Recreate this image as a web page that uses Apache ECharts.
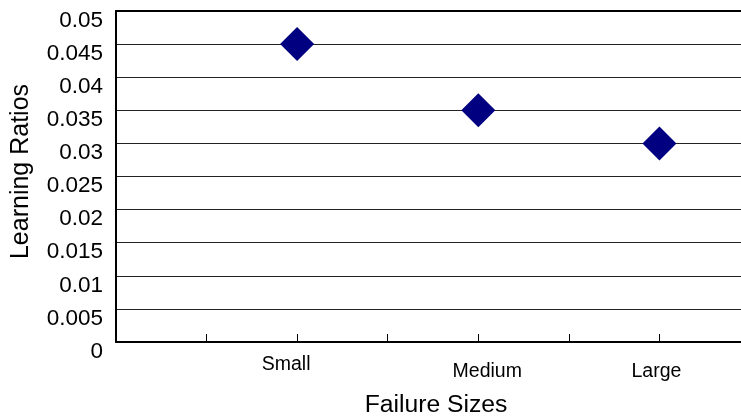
<!DOCTYPE html>
<html>
<head>
<meta charset="utf-8">
<script src="https://cdn.jsdelivr.net/npm/echarts@6/dist/echarts.min.js"></script>
<style>
  html, body { margin: 0; padding: 0; background: #fff; }
  #chart { width: 741px; height: 420px; }
</style>
</head>
<body>
<div id="chart"></div>
<script>
// Failure size categories and their positions on the x scale
const categories = ['Small', 'Medium', 'Large'];
const categoryPositions = [2, 4, 6];
// Learning ratio for each failure size
const learningRatios = [0.045, 0.035, 0.03];
// Y tick range
const yMin = 0, yMax = 0.05, yStep = 0.005;

const points = categoryPositions.map((x, i) => [x, learningRatios[i]]);
const labelByPos = {};
categoryPositions.forEach((p, i) => { labelByPos[p] = categories[i]; });

const font = 'Liberation Sans, Arial, sans-serif';

const chart = echarts.init(document.getElementById('chart'), null, { renderer: 'canvas' });
chart.setOption({
  animation: false,
  backgroundColor: '#fff',
  grid: {
    left: 116, top: 11, right: -9, bottom: 78,
    outerBoundsMode: 'none',
    containLabel: false,
    show: false
  },
  xAxis: [{
    type: 'value',
    min: 0, max: 7, interval: 1,
    name: 'Failure Sizes',
    nameLocation: 'middle',
    nameGap: 51,
    nameTextStyle: { fontFamily: font, fontSize: 24.7, color: '#000', padding: [0, 0, 0, 6] },
    axisLine: { lineStyle: { color: '#000', width: 2 } },
    axisTick: { inside: true, length: 8, lineStyle: { color: '#000', width: 1 } },
    splitLine: { show: false },
    axisLabel: {
      margin: 13,
      fontFamily: font, fontSize: 19.5, color: '#000',
      formatter: v => {
        const name = labelByPos[v];
        if (!name) return '';
        return '{' + name.toLowerCase() + '|' + name + '}';
      },
      rich: {
        small:  { fontFamily: font, fontSize: 19.5, color: '#000', padding: [0, 22, 0, 0] },
        medium: { fontFamily: font, fontSize: 19.5, color: '#000', padding: [7, 0, 0, 18] },
        large:  { fontFamily: font, fontSize: 19.5, color: '#000', padding: [7, 6, 0, 0] }
      }
    }
  }, {
    // top border of the plot frame
    type: 'value',
    position: 'top',
    min: 0, max: 7,
    axisLine: { show: true, lineStyle: { color: '#000', width: 2 } },
    axisTick: { show: false },
    axisLabel: { show: false },
    splitLine: { show: false }
  }],
  yAxis: {
    type: 'value',
    min: yMin, max: yMax, interval: yStep,
    name: 'Learning Ratios',
    nameLocation: 'middle',
    nameGap: 82,
    nameTextStyle: { fontFamily: font, fontSize: 25, color: '#000', padding: [0, 0, 0, 10] },
    axisLine: { show: true, lineStyle: { color: '#000', width: 2 } },
    axisTick: { show: false },
    splitLine: { lineStyle: { color: '#222', width: 1 } },
    axisLabel: {
      margin: 13,
      fontFamily: font, fontSize: 22.5, color: '#000',
      formatter: v => '{v|' + String(parseFloat(v.toFixed(3))) + '}',
      rich: {
        v: { fontFamily: font, fontSize: 22.5, color: '#000', padding: [19, 0, 0, 0] }
      }
    }
  },
  series: [{
    type: 'scatter',
    data: points,
    symbol: 'diamond',
    symbolSize: 34,
    itemStyle: { color: '#000080', opacity: 1 }
  }]
});
</script>
</body>
</html>
